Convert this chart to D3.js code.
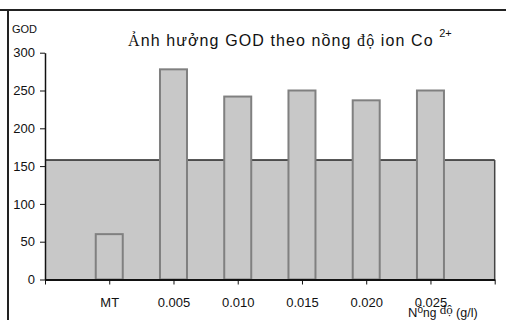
<!DOCTYPE html>
<meta charset="utf-8">
<style>
body { margin: 0; background: #fff; }
text { font-family: Arial, "Liberation Sans", sans-serif; fill: #111; }
.serif { font-family: "Liberation Serif", "Times New Roman", serif; }
</style>
<svg width="506" height="320"></svg>
<script src="https://cdn.jsdelivr.net/npm/d3@7"></script>
<script>

var categories = ["MT", "0.005", "0.010", "0.015", "0.020", "0.025"];
var godValues = [60, 278, 242, 250, 237, 250];
var yTicks = [0, 50, 100, 150, 200, 250, 300];
var plotTop = 158; // grey plot area top (value units)

var svg = d3.select("svg");

var x = d3.scaleLinear()
    .domain([0, categories.length + 1])
    .range([45, 494.7]);

var y = d3.scaleLinear()
    .domain([0, 300])
    .range([279.5, 52.7]);

// frame lines
svg.append("line")
    .attr("x1", 0).attr("x2", 506).attr("y1", 10).attr("y2", 10)
    .attr("stroke", "#222").attr("stroke-width", 2);
svg.append("line")
    .attr("x1", 8).attr("x2", 8).attr("y1", 10).attr("y2", 320)
    .attr("stroke", "#222").attr("stroke-width", 2);

// grey plot area
svg.append("rect")
    .attr("x", x(0)).attr("y", y(plotTop))
    .attr("width", x(categories.length + 1) - x(0))
    .attr("height", y(0) - y(plotTop))
    .attr("fill", "#c8c8c8");
svg.append("line")
    .attr("x1", x(0)).attr("x2", x(categories.length + 1))
    .attr("y1", y(plotTop)).attr("y2", y(plotTop))
    .attr("stroke", "#222").attr("stroke-width", 1.5);
svg.append("line")
    .attr("x1", x(categories.length + 1)).attr("x2", x(categories.length + 1))
    .attr("y1", y(plotTop)).attr("y2", y(0))
    .attr("stroke", "#444").attr("stroke-width", 1.5);

// bars
var barW = 27;
svg.append("g")
  .selectAll("rect")
  .data(godValues)
  .enter().append("rect")
    .attr("x", function(d, i) { return x(i + 1) - barW / 2; })
    .attr("y", function(d) { return y(d); })
    .attr("width", barW)
    .attr("height", function(d) { return y(0) - y(d); })
    .attr("fill", "#c8c8c8")
    .attr("stroke", "#808080")
    .attr("stroke-width", 2);

// y axis
var yAxis = svg.append("g")
    .attr("transform", "translate(" + x(0) + ",0)")
    .call(d3.axisLeft(y).tickValues(yTicks).tickSize(5).tickPadding(5).tickSizeOuter(0));
yAxis.select(".domain").attr("stroke", "#111").attr("stroke-width", 1.5);
yAxis.selectAll(".tick line").attr("stroke", "#111");
yAxis.selectAll("text").attr("font-size", 13).attr("font-family", null).style("fill", "#111");

// x axis
var xAxis = svg.append("g")
    .attr("transform", "translate(0," + y(0) + ")")
    .call(d3.axisBottom(x)
      .tickValues(d3.range(categories.length + 2))
      .tickFormat(function(i) { return categories[i - 1] || ""; })
      .tickSize(5).tickPadding(13).tickSizeOuter(0));
xAxis.select(".domain").attr("stroke", "#111").attr("stroke-width", 2);
xAxis.selectAll(".tick line").attr("stroke", "#111");
xAxis.selectAll("text").attr("font-size", 13).attr("font-family", null).style("fill", "#111");

// axis titles
svg.append("text")
    .attr("x", 12).attr("y", 32.5)
    .attr("font-size", 11)
    .text("GOD");

var xt = svg.append("text")
    .attr("x", 408).attr("y", 316.5)
    .attr("font-size", 13);
xt.append("tspan").text("N");
xt.append("tspan").attr("font-size", 10).attr("dy", -4).text("ồ");
xt.append("tspan").attr("font-size", 12).attr("dy", 4).text("ng ");
xt.append("tspan").attr("class", "serif").attr("font-size", 13).attr("dy", -3).text("độ");
xt.append("tspan").attr("font-size", 12.5).attr("dy", 3).text(" (g/l)");

// title
var title = svg.append("text")
    .attr("x", 128).attr("y", 45.5)
    .attr("font-size", 16)
    .attr("letter-spacing", 1.1);
title.append("tspan").attr("class", "serif").text("Ả");
title.append("tspan").text("nh hưởng GOD theo nồng ");
title.append("tspan").attr("class", "serif").text("độ");
title.append("tspan").text(" ion Co ");
title.append("tspan").attr("font-size", 11).attr("letter-spacing", 0).attr("dy", -9).text("2+");

</script>
